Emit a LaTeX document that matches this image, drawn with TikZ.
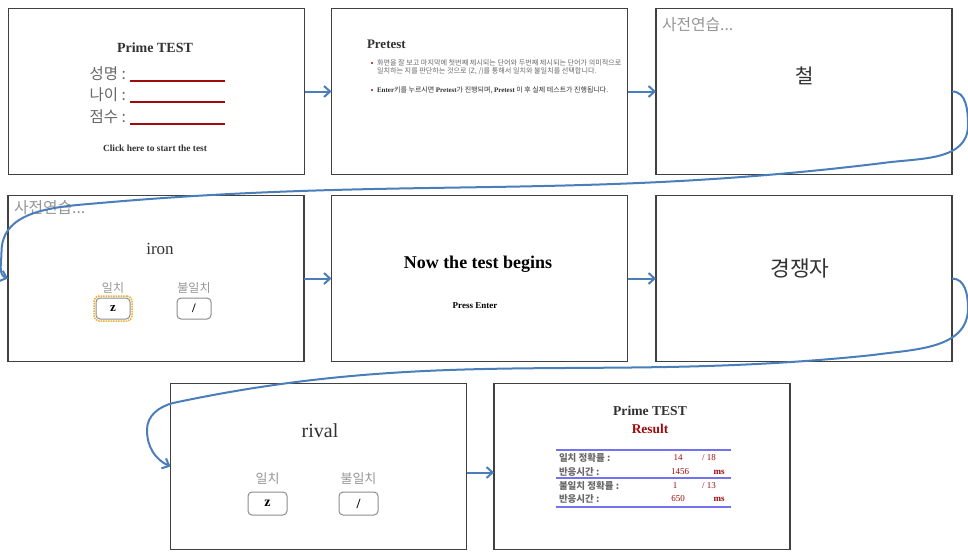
\documentclass[tikz,border=0pt]{standalone}
\usepackage{fontspec}
\setmainfont{Liberation Serif}
\newfontfamily\kr{Noto Sans CJK KR}
\usetikzlibrary{arrows.meta}

\definecolor{flow}{RGB}{74,126,187}
\definecolor{frame}{RGB}{64,64,64}
\definecolor{dred}{RGB}{160,10,10}
\definecolor{rulecol}{RGB}{115,115,240}
\definecolor{txt}{RGB}{50,50,50}
\definecolor{soft}{RGB}{105,105,105}
\definecolor{pale}{RGB}{150,150,150}
\definecolor{keyline}{RGB}{140,140,140}
\definecolor{focus}{RGB}{235,175,50}

\newcommand{\fs}[1]{\fontsize{#1}{#1}\selectfont}

\begin{document}
\begin{tikzpicture}[x=1pt,y=1pt,
  slide/.style={draw=frame,line width=1.2pt,minimum width=296pt,minimum height=166pt,
    inner sep=0pt,outer sep=0pt,fill=white},
  flowarrow/.style={draw=flow,line width=2pt,-{Straight Barb[length=6pt,width=11pt]}},
  keycap/.style={draw=keyline,line width=1pt,rounded corners=4pt,minimum width=34pt,
    minimum height=21pt,inner sep=0pt,text=black,font=\bfseries\fs{13}},
  keyfocus/.style={draw=focus,line width=1.5pt,dash pattern=on 1.5pt off 1pt,rounded corners=5pt,
    minimum width=38pt,minimum height=25pt,inner sep=0pt},
  plain/.style={inner sep=0pt,outer sep=0pt},
  underline/.style={draw=dred,line width=1.4pt},
  tablerule/.style={draw=rulecol,line width=1.6pt},
]
\useasboundingbox (0,0) rectangle (968,-552);

% ---- slides ----
\node[slide] (b1) at (156.5,-91.5) {};
\node[slide] (b2) at (479.5,-91.5) {};
\node[slide] (b3) at (804,-91.5) {};
\node[slide] (b4) at (156,-278.5) {};
\node[slide] (b5) at (479.5,-278.5) {};
\node[slide] (b6) at (804,-278.5) {};
\node[slide] (b7) at (318.5,-466.5) {};
\node[slide] (b8) at (642,-466.5) {};

% ---- slide 1: entry form ----
\node[plain,text=txt,font=\bfseries\fs{14}] (t1) at (155,-48) {Prime TEST};
\node[plain,anchor=east,text=soft,font=\kr\fs{15.5}] (n1) at (126,-74) {성명 :};
\node[plain,anchor=east,text=soft,font=\kr\fs{15.5}] (n2) at (126,-95) {나이 :};
\node[plain,anchor=east,text=soft,font=\kr\fs{15.5}] (n3) at (126,-117) {점수 :};
\draw[underline] (130,-81) -- (225,-81);
\draw[underline] (130,-102) -- (225,-102);
\draw[underline] (130,-124) -- (225,-124);
\node[plain,text=txt,font=\bfseries\fs{9.4}] (click) at (155,-148) {Click here to start the test};

% ---- slide 2: instructions ----
\node[plain,anchor=west,text=txt,font=\bfseries\fs{13}] (pt) at (367,-44) {Pretest};
\fill[dred] (372,-63) circle (1.2pt);
\fill[dred] (372,-90) circle (1.2pt);
\node[plain,anchor=west,text=soft,font=\kr\fs{7.1}] (p1) at (377,-63)
  {화면을 잘 보고 마지막에 첫번째 제시되는 단어와 두번째 제시되는 단어가 의미적으로};
\node[plain,anchor=west,text=soft,font=\kr\fs{7.1}] (p2) at (377,-71)
  {일치하는 지를 판단하는 것으로 (Z, /)를 통해서 일치와 불일치를 선택합니다.};
\node[plain,anchor=west,text=txt,font=\kr\fs{7.0}] (p3) at (377,-90)
  {{\rmfamily\bfseries Enter}키를 누르시면 {\rmfamily\bfseries Pretest}가 진행되며, {\rmfamily\bfseries Pretest} 이 후 실제 테스트가 진행됩니다.};

% ---- slide 3: practice word ----
\node[plain,anchor=west,text=pale,font=\kr\fs{15.8}] (pr1) at (662,-25) {사전연습...};
\node[plain,text=txt,font=\kr\fs{20}] (w1) at (805,-76) {철};

% ---- slide 4: practice response ----
\node[plain,anchor=west,text=pale,font=\kr\fs{15.8}] (pr2) at (14,-208) {사전연습...};
\node[plain,text=txt,font=\fs{17}] (w2) at (160,-249) {iron};
\node[plain,text=pale,font=\kr\fs{12}] (m1) at (113,-288) {일치};
\node[plain,text=pale,font=\kr\fs{12}] (m2) at (194,-288) {불일치};
\node[keyfocus] (kf) at (113,-308.5) {};
\node[keycap] (kz1) at (113,-308.5) {z};
\node[keycap] (ks1) at (194,-308.5) {/};

% ---- slide 5: start of test ----
\node[plain,text=black,font=\bfseries\fs{18}] (go) at (478,-264) {Now the test begins};
\node[plain,text=black,font=\bfseries\fs{9}] (ent) at (475,-306) {Press Enter};

% ---- slide 6: test word ----
\node[plain,text=txt,font=\kr\fs{21.5}] (w3) at (800,-268) {경쟁자};

% ---- slide 7: test response ----
\node[plain,text=txt,font=\fs{20}] (w4) at (320,-431) {rival};
\node[plain,text=pale,font=\kr\fs{13}] (m3) at (267.5,-479) {일치};
\node[plain,text=pale,font=\kr\fs{13}] (m4) at (358.5,-479) {불일치};
\node[keycap,minimum width=39pt,minimum height=23pt,font=\bfseries\fs{14}] (kz2) at (267.5,-503.5) {z};
\node[keycap,minimum width=39pt,minimum height=23pt,font=\bfseries\fs{14}] (ks2) at (358.5,-503.5) {/};

% ---- slide 8: result sheet ----
\node[plain,text=txt,font=\bfseries\fs{13.6}] (t2) at (650,-411) {Prime TEST};
\node[plain,text=dred,font=\bfseries\fs{13.4}] (res) at (650,-429) {Result};
\draw[tablerule] (556,-450) -- (731,-450);
\draw[tablerule] (556,-478) -- (731,-478);
\draw[tablerule] (556,-507) -- (731,-507);
\node[plain,anchor=west,text=soft,font=\kr\bfseries\fs{9.5}] (r1) at (559,-458) {일치 정확률 :};
\node[plain,anchor=west,text=soft,font=\kr\bfseries\fs{9.5}] (r2) at (559,-472) {반응시간 :};
\node[plain,anchor=west,text=soft,font=\kr\bfseries\fs{9.5}] (r3) at (559,-486) {불일치 정확률 :};
\node[plain,anchor=west,text=soft,font=\kr\bfseries\fs{9.5}] (r4) at (559,-499) {반응시간 :};
\node[plain,text=dred,font=\fs{9}] (v1) at (678,-458) {14};
\node[plain,text=dred,font=\fs{9}] (v2) at (709,-458) {/ 18};
\node[plain,text=dred,font=\fs{9}] (v3) at (680,-472) {1456};
\node[plain,text=dred,font=\bfseries\fs{9}] (v4) at (719,-472) {ms};
\node[plain,text=dred,font=\fs{9}] (v5) at (675,-486) {1};
\node[plain,text=dred,font=\fs{9}] (v6) at (709,-486) {/ 13};
\node[plain,text=dred,font=\fs{9}] (v7) at (678,-499) {650};
\node[plain,text=dred,font=\bfseries\fs{9}] (v8) at (719,-499) {ms};

% ---- connectors ----
\draw[flowarrow] (b1.east) -- (b2.west);
\draw[flowarrow] (b2.east) -- (b3.west);
\draw[flowarrow] (b4.east) -- (b5.west);
\draw[flowarrow] (b5.east) -- (b6.west);
\draw[flowarrow] ([yshift=-6pt]b7.east) -- ([yshift=-6pt]b8.west);

\coordinate (c1) at (968,-125);
\coordinate (c2) at (883,-163);
\coordinate (c3) at (100,-203);
\coordinate (c4) at (1.5,-252);
\draw[flowarrow] (b3.east) to[out=0,in=90] (c1) to[out=-90,in=8] (c2)
  to[out=187,in=5] (c3) to[out=185,in=90] (c4) to[out=-90,in=160] (b4.west);

\coordinate (c5) at (968,-308);
\coordinate (c6) at (873,-355);
\coordinate (c7) at (173,-403);
\coordinate (c8) at (147,-430);
\draw[flowarrow] (b6.east) to[out=0,in=90] (c5) to[out=-90,in=8] (c6)
  to[out=186,in=12] (c7) to[out=195,in=90] (c8) to[out=-90,in=155] (b7.west);
\end{tikzpicture}
\end{document}
